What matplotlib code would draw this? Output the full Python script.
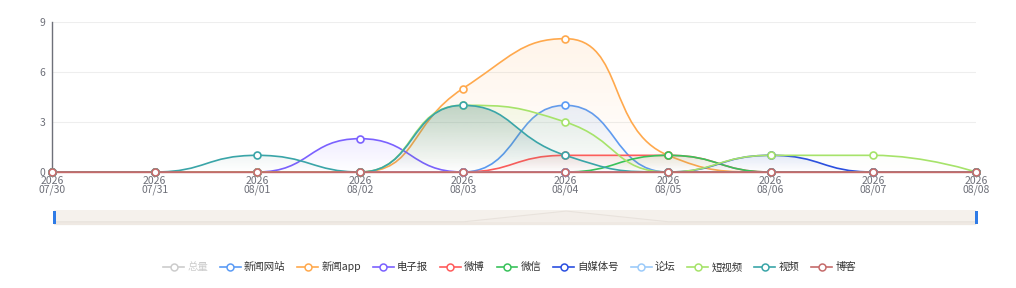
import numpy as np
import matplotlib
matplotlib.use("Agg")
import matplotlib.pyplot as plt
from matplotlib.path import Path
from matplotlib.patches import PathPatch, Rectangle
from matplotlib.lines import Line2D
from matplotlib.colors import to_rgb

plt.rcParams['font.family'] = ['Noto Sans CJK SC', 'DejaVu Sans']

# ---------------- data ----------------
dates = ["07/30", "07/31", "08/01", "08/02", "08/03", "08/04", "08/05", "08/06", "08/07", "08/08"]
year = "2026"
names = ["总量", "新闻网站", "新闻app", "电子报", "微博", "微信", "自媒体号", "论坛", "短视频", "视频", "博客"]
colors = ["#cccccc", "#5b9bf5", "#ffa94d", "#7b61ff", "#ff5b5b", "#39c25b",
          "#2b4fe0", "#9ccbfa", "#a6e36a", "#3aa5a8", "#c56b6b"]
news_site = [0, 0, 0, 0, 0, 4, 0, 0, 0, 0]
news_app = [0, 0, 0, 0, 5, 8, 1, 0, 0, 0]
e_paper = [0, 0, 0, 2, 0, 0, 0, 0, 0, 0]
weibo = [0, 0, 0, 0, 0, 1, 1, 0, 0, 0]
wechat = [0, 0, 0, 0, 0, 0, 1, 0, 0, 0]
we_media = [0, 0, 0, 0, 0, 0, 0, 1, 0, 0]
forum = [0, 0, 0, 0, 0, 0, 0, 0, 0, 0]
short_video = [0, 0, 0, 0, 4, 3, 0, 1, 1, 0]
video = [0, 0, 1, 0, 4, 1, 0, 0, 0, 0]
blog = [0, 0, 0, 0, 0, 0, 0, 0, 0, 0]
series = [news_site, news_app, e_paper, weibo, wechat, we_media, forum, short_video, video, blog]
preview = [0, 0, 0, 0, 0, 1, 0, 0, 0, 0]  # hidden 总量 series shape in slider
yticks = [0, 3, 6, 9]

W, H = 1016, 288
fig = plt.figure(figsize=(W / 100, H / 100), dpi=100)
L, R, T, B = 52, 976, 22, 172
ax = fig.add_axes([L / W, 1 - B / H, (R - L) / W, (B - T) / H])
ax.set_xlim(0, len(dates) - 1)
ax.set_ylim(0, 9)

sx = (R - L) / (len(dates) - 1)
sy = (B - T) / 9.0


def clamp(v, a, b):
    lo, hi = min(a, b), max(a, b)
    return max(lo, min(hi, v))


def echarts_smooth(xs, ys, smooth=0.5):
    P = [(x * sx, y * sy) for x, y in zip(xs, ys)]
    n = len(P)
    verts = [P[0]]
    codes = [Path.MOVETO]
    cpx0, cpy0 = P[0]
    for i in range(1, n):
        x, y = P[i]
        px, py = P[i - 1]
        if i == n - 1:
            cpx1, cpy1 = x, y
            ncx, ncy = x, y
        else:
            nx, ny = P[i + 1]
            vx, vy = nx - px, ny - py
            lp = np.hypot(x - px, y - py)
            ln = np.hypot(nx - x, ny - y)
            r = ln / (ln + lp)
            ncx = clamp(x + vx * smooth * r, nx, x)
            ncy = clamp(y + vy * smooth * r, ny, y)
            vx, vy = ncx - x, ncy - y
            cpx1 = clamp(x - vx * lp / ln, px, x)
            cpy1 = clamp(y - vy * lp / ln, py, y)
            vx, vy = x - cpx1, y - cpy1
            ncx = x + vx * ln / lp
            ncy = y + vy * ln / lp
        verts += [(cpx0, cpy0), (cpx1, cpy1), (x, y)]
        codes += [Path.CURVE4] * 3
        cpx0, cpy0 = ncx, ncy
    verts = [(vx_ / sx, vy_ / sy) for vx_, vy_ in verts]
    return verts, codes


xs = np.arange(len(dates))
fill_cols = ["#5b9bf5", "#ffa94d", "#7b61ff", "#ff5b5b", "#39c25b",
             "#2b4fe0", "#9ccbfa", "#a6e36a", "#2a6f6b", "#c56b6b"]
alpha_top = [0.14, 0.12, 0.12, 0.12, 0.12, 0.12, 0.12, 0.12, 0.26, 0.12]
for k, (vals, col) in enumerate(zip(series, colors[1:])):
    z = 2 + k * 0.1
    verts, codes = echarts_smooth(xs, vals)
    if max(vals) > 0:
        av = verts + [(xs[-1], 0), (xs[0], 0), (xs[0], 0)]
        ac = codes + [Path.LINETO, Path.LINETO, Path.CLOSEPOLY]
        apath = Path(av, ac)
        patch = PathPatch(apath, facecolor='none', edgecolor='none', transform=ax.transData)
        ax.add_patch(patch)
        ymax = max(vals)
        grad = np.zeros((256, 2, 4))
        grad[..., :3] = to_rgb(fill_cols[k])
        grad[..., 3] = np.linspace(alpha_top[k], 0, 256)[:, None]
        im = ax.imshow(grad, extent=(xs[0], xs[-1], 0, ymax), origin='upper',
                       aspect='auto', zorder=z, interpolation='bilinear')
        im.set_clip_path(patch)
    lpath = Path(verts, codes)
    ax.add_patch(PathPatch(lpath, facecolor='none', edgecolor=col, lw=1.2, zorder=z + 0.05,
                           capstyle='round', joinstyle='round'))

for k, (vals, col) in enumerate(zip(series, colors[1:])):
    ax.plot(xs, vals, ls='none', marker='o', ms=5, mfc='white', mec=col, mew=1.2,
            zorder=5 + k * 0.1, clip_on=False)

ax.set_xlim(0, len(dates) - 1)
ax.set_ylim(0, 9)

for s in ['top', 'right']:
    ax.spines[s].set_visible(False)
ax.spines['left'].set_color('#6e7079')
ax.spines['left'].set_linewidth(1.0)
ax.spines['bottom'].set_color('#c56b6b')
ax.spines['bottom'].set_linewidth(1.0)
ax.set_yticks(yticks)
ax.set_yticklabels([str(t) for t in yticks])
ax.tick_params(axis='y', length=0, pad=5, labelsize=7.5, colors='#6e7079')
ax.set_xticks(xs)
ax.set_xticklabels([f"{year}\n{d}" for d in dates], linespacing=0.8)
ax.tick_params(axis='x', length=0, pad=3, labelsize=7.5, colors='#6e7079')
ax.yaxis.grid(True, color='#eeeeee', lw=0.8)
ax.set_axisbelow(True)

# ---------------- data zoom slider ----------------
zx0, zx1, zy0, zy1 = 54, 976, 210, 225
sax = fig.add_axes([zx0 / W, 1 - zy1 / H, (zx1 - zx0) / W, (zy1 - zy0) / H])
sax.set_xlim(0, len(dates) - 1)
sax.set_ylim(-0.3, 1.1)
sax.axis('off')
sax.add_patch(Rectangle((0, -0.3), len(dates) - 1, 1.4, facecolor='#f5f1ec', edgecolor='none'))
sax.fill_between(xs, preview, -0.3, color='#efe9e3', alpha=0.25, lw=0)
sax.fill_between(xs, 0, -0.3, color='#efe9e3', lw=0)
sax.plot(xs, preview, color='#e8e2dc', lw=0.8)

for zx in (zx0, zx1):
    fig.patches.append(Rectangle(((zx - 1.5) / W, 1 - (zy1 - 1) / H), 3 / W, 13 / H,
                                 transform=fig.transFigure, facecolor='#2f7be6', edgecolor='none'))
    fig.patches.append(Rectangle(((zx - 0.4) / W, 1 - (zy1 + 1) / H), 0.8 / W, 17 / H,
                                 transform=fig.transFigure, facecolor='#a9c8f2', edgecolor='none',
                                 zorder=0))

# ---------------- legend ----------------
handles = [Line2D([], [], color=c, lw=1.2, marker='o', ms=5, mfc='white', mec=c, mew=1.1)
           for c in colors]
leg = fig.legend(handles, names, loc='center', bbox_to_anchor=(0.5015, 1 - 267 / H), ncol=len(names),
                 frameon=False, fontsize=7.5, handlelength=2.0, handletextpad=0.3,
                 columnspacing=1.15, borderaxespad=0, borderpad=0)
for i, t in enumerate(leg.get_texts()):
    t.set_color('#cccccc' if i == 0 else '#333333')

fig.savefig('out.png', dpi=100)
